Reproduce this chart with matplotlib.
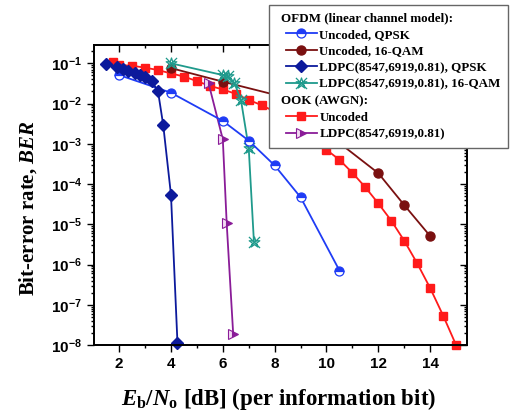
import numpy as np
import matplotlib
matplotlib.use('Agg')
import matplotlib.pyplot as plt
from matplotlib.lines import Line2D
from matplotlib.markers import MarkerStyle
from matplotlib.path import Path
from matplotlib.legend_handler import HandlerBase, HandlerLine2D
from matplotlib.patches import Rectangle
from matplotlib.font_manager import FontProperties
from matplotlib.ticker import FuncFormatter, LogLocator, MultipleLocator, NullFormatter

plt.rcParams.update({
    'font.family': ['Liberation Sans', 'DejaVu Sans'],
    'font.weight': 'bold',
    'mathtext.fontset': 'custom',
    'mathtext.rm': 'Liberation Serif:bold',
    'mathtext.it': 'Liberation Serif:italic:bold',
    'mathtext.bf': 'Liberation Serif:bold',
    'mathtext.sf': 'Liberation Sans:bold',
})

# ---------------- data (Eb/No in dB, BER) ----------------
unc_qpsk_x = [2.0, 4.0, 6.0, 7.0, 8.0, 9.0, 10.5]
unc_qpsk_y = [5.1e-2, 1.86e-2, 3.7e-3, 1.2e-3, 2.9e-4, 4.7e-5, 7.1e-7]

unc_16qam_x = [4.0, 6.0, 8.0, 10.0, 12.0, 13.0, 14.0]
unc_16qam_y = [7.6e-2, 3.5e-2, 1.66e-2, 1.86e-3, 1.86e-4, 3.0e-5, 5.1e-6]

ldpc_qpsk_x = [1.5, 1.9, 2.15, 2.35, 2.6, 2.8, 3.0, 3.25, 3.5, 3.7, 4.0, 4.25]
ldpc_qpsk_y = [9.6e-2, 7.9e-2, 7.2e-2, 6.5e-2, 5.8e-2, 5.1e-2, 4.7e-2, 3.7e-2,
               2.0e-2, 2.95e-3, 5.4e-5, 1.15e-8]

ldpc_16qam_x = [4.0, 6.0, 6.2, 6.45, 6.7, 7.0, 7.2]
ldpc_16qam_y = [1.0e-1, 5.1e-2, 4.8e-2, 3.2e-2, 1.23e-2, 7.8e-4, 3.7e-6]

ook_unc_x = [1.75, 2.0, 2.5, 3.0, 3.5, 4.0, 4.5, 5.0, 5.5, 6.0, 6.5, 7.0, 7.5,
             8.0, 8.5, 9.0, 9.5, 10.0, 10.5, 11.0, 11.5, 12.0, 12.5, 13.0,
             13.5, 14.0, 14.5, 15.0]
ook_unc_y = [1.06e-1, 9.1e-2, 8.7e-2, 7.8e-2, 6.8e-2, 5.6e-2, 4.7e-2, 3.6e-2,
             2.75e-2, 2.24e-2, 1.74e-2, 1.23e-2, 9.1e-3, 6.3e-3, 4.2e-3,
             2.4e-3, 1.32e-3, 7.1e-4, 4.0e-4, 1.9e-4, 8.3e-5, 3.3e-5, 1.23e-5,
             3.9e-6, 1.07e-6, 2.6e-7, 5.4e-8, 1.0e-8]

ook_ldpc_x = [5.45, 6.0, 6.15, 6.4]
ook_ldpc_y = [3.2e-2, 1.29e-3, 1.05e-5, 1.9e-8]

legend_labels = ['OFDM (linear channel model):', 'Uncoded, QPSK', 'Uncoded, 16-QAM',
                 'LDPC(8547,6919,0.81), QPSK', 'LDPC(8547,6919,0.81), 16-QAM',
                 'OOK (AWGN):', 'Uncoded', 'LDPC(8547,6919,0.81)']

xlim = (1.03, 15.41)
ylim = (1e-8, 10 ** -0.545)

# ---------------- figure ----------------
fig = plt.figure(figsize=(5.13, 4.19), dpi=100)
ax = fig.add_axes([94 / 513, 1 - 345 / 419, (466.7 - 94) / 513, 300 / 419])

c_qpsk = '#1f3cf5'
c_16 = '#7a1010'
c_lq = '#0c1a9c'
c_l16 = '#1f9a8c'
c_ook = '#ff1a1a'
c_ool = '#8a1c98'

mx = MarkerStyle('x')
mst = MarkerStyle('*')
combo = Path.make_compound_path(mx.get_path().transformed(mx.get_transform()),
                                mst.get_path().transformed(mst.get_transform()))

lw = 1.3
l_ook, = ax.plot(ook_unc_x, ook_unc_y, '-', color=c_ook, lw=lw, marker='s', ms=6,
                 mfc=c_ook, mec=c_ook, clip_on=False, zorder=3)
l_16, = ax.plot(unc_16qam_x, unc_16qam_y, '-', color=c_16, lw=lw, marker='o', ms=6.5,
                mfc=c_16, mec=c_16, clip_on=False, zorder=4)
l_l16, = ax.plot(ldpc_16qam_x, ldpc_16qam_y, '-', color=c_l16, lw=lw, marker=combo, ms=8,
                 mfc='none', mec=c_l16, mew=0.9, clip_on=False, zorder=5)
l_ool, = ax.plot(ook_ldpc_x, ook_ldpc_y, '-', color=c_ool, lw=lw, marker='>', ms=6.5,
                 fillstyle='right', mfc=c_ool, mfcalt='#f3dcf3', mec=c_ool, mew=0.8,
                 clip_on=False, zorder=5)
l_qpsk, = ax.plot(unc_qpsk_x, unc_qpsk_y, '-', color=c_qpsk, lw=lw, marker='o', ms=6.5,
                  fillstyle='top', mfc=c_qpsk, mfcalt='white', mec=c_qpsk, mew=0.9,
                  clip_on=False, zorder=6)
l_lq, = ax.plot(ldpc_qpsk_x, ldpc_qpsk_y, '-', color=c_lq, lw=lw, marker='D', ms=5.8,
                mfc=c_lq, mec=c_lq, clip_on=False, zorder=7)

ax.set_yscale('log')
ax.set_xlim(*xlim)
ax.set_ylim(*ylim)
ax.xaxis.set_major_locator(MultipleLocator(2))
ax.xaxis.set_minor_locator(MultipleLocator(1))
ax.yaxis.set_major_locator(LogLocator(base=10, numticks=20))
ax.yaxis.set_minor_locator(LogLocator(base=10, subs=np.arange(2, 10), numticks=20))
ax.yaxis.set_major_formatter(FuncFormatter(lambda v, p: r'$\mathsf{10^{%d}}$' % round(np.log10(v))))
ax.yaxis.set_minor_formatter(NullFormatter())
ax.tick_params(which='both', direction='out', top=False, right=False, width=1.0, labelsize=11)
ax.tick_params(which='major', length=5)
ax.tick_params(which='minor', length=2.5)
for lbl in ax.get_xticklabels():
    lbl.set_fontweight('bold')
for s in ax.spines.values():
    s.set_linewidth(1.1)

axr = ax.twinx()
axr.set_yscale('log')
axr.set_ylim(*ylim)
axr.yaxis.set_major_locator(LogLocator(base=10, numticks=20))
axr.yaxis.set_minor_locator(LogLocator(base=10, subs=np.arange(2, 10), numticks=20))
axr.tick_params(which='both', direction='in', labelright=False, width=1.0)
axr.tick_params(which='major', length=5)
axr.tick_params(which='minor', length=2.5)
axt = ax.twiny()
axt.set_xlim(*xlim)
axt.xaxis.set_major_locator(MultipleLocator(2))
axt.xaxis.set_minor_locator(MultipleLocator(1))
axt.tick_params(which='both', direction='in', labeltop=False, width=1.0)
axt.tick_params(which='major', length=5)
axt.tick_params(which='minor', length=2.5)
for a in (axr, axt):
    for s in a.spines.values():
        s.set_linewidth(1.1)

ax.set_xlabel(r'$E_{\rm b}/N_{\rm o}$ [dB] (per information bit)',
              fontfamily='Liberation Serif', fontweight='bold', fontsize=16.5)
ax.xaxis.set_label_coords(0.495, -0.135)
ax.set_ylabel(r'Bit-error rate, $BER$', fontfamily='Liberation Serif',
              fontweight='bold', fontsize=15)
ax.yaxis.set_label_coords(-0.148, 0.455)


class HeaderHandler(HandlerBase):
    def legend_artist(self, legend, orig_handle, fontsize, handlebox):
        handlebox.width = -legend.handletextpad * fontsize + 3.1
        r = Rectangle((0, 0), 0, 0, visible=False)
        handlebox.add_artist(r)
        return r


h1 = Line2D([], [], visible=False)
h2 = Line2D([], [], visible=False)
handles = [h1, l_qpsk, l_16, l_lq, l_l16, h2, l_ook, l_ool]
leg = fig.legend(handles, legend_labels, loc='upper right',
                 bbox_to_anchor=(508 / 513, 1 - 5 / 419), bbox_transform=fig.transFigure,
                 prop=FontProperties(family='Liberation Serif', weight='bold', size=9.4),
                 frameon=True, fancybox=False, edgecolor='#666666', framealpha=1,
                 handlelength=3.1, handletextpad=0.2, labelspacing=0.34, borderpad=0.55,
                 borderaxespad=0,
                 handler_map={h1: HeaderHandler(), h2: HeaderHandler(),
                              Line2D: HandlerLine2D(xpad=0.75)})
leg.get_frame().set_linewidth(1.0)
leg.set_zorder(20)

fig.savefig('out.png', dpi=100)
